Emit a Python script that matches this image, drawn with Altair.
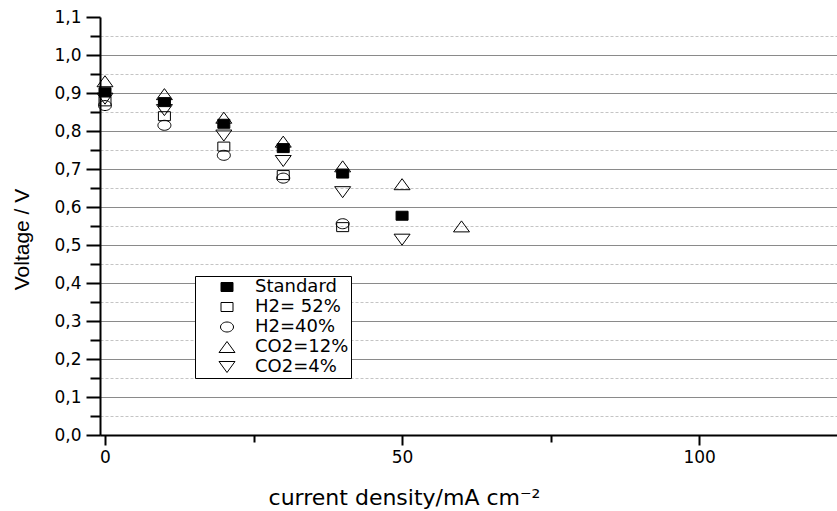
import altair as alt
import pandas as pd

# ---- data ----
series_names = ["Standard", "H2= 52%", "H2=40%", "CO2=12%", "CO2=4%"]

current_standard = [0, 10, 20, 30, 40, 50]
voltage_standard = [0.902, 0.876, 0.819, 0.755, 0.688, 0.577]

current_h2_52 = [0, 10, 20, 30, 40]
voltage_h2_52 = [0.878, 0.839, 0.759, 0.684, 0.547]

current_h2_40 = [0, 10, 20, 30, 40]
voltage_h2_40 = [0.867, 0.815, 0.736, 0.676, 0.556]

current_co2_12 = [0, 10, 20, 30, 40, 50, 60]
voltage_co2_12 = [0.931, 0.897, 0.835, 0.772, 0.707, 0.660, 0.549]

current_co2_4 = [0, 10, 20, 30, 40, 50]
voltage_co2_4 = [0.885, 0.855, 0.788, 0.721, 0.639, 0.514]

y_tick_values = [round(i * 0.05, 2) for i in range(23)]
x_tick_values = [0, 25, 50, 75, 100]

# ---- table ----
rows = []
for name, xs, ys in [
    (series_names[0], current_standard, voltage_standard),
    (series_names[1], current_h2_52, voltage_h2_52),
    (series_names[2], current_h2_40, voltage_h2_40),
    (series_names[3], current_co2_12, voltage_co2_12),
    (series_names[4], current_co2_4, voltage_co2_4),
]:
    for x, y in zip(xs, ys):
        rows.append({"series": name, "current": x, "voltage": y})
df = pd.DataFrame(rows)

# marker shapes (slightly wide, as in the reference)
sq = "M-0.75,-0.5625L0.75,-0.5625L0.75,0.5625L-0.75,0.5625Z"
circ = "M-0.8125,0A0.8125,0.625,0,1,0,0.8125,0A0.8125,0.625,0,1,0,-0.8125,0Z"
tri_up = "M0,-0.6875L1,0.6875L-1,0.6875Z"
tri_down = "M0,0.6875L1,-0.6875L-1,-0.6875Z"
shape_range = [sq, sq, circ, tri_up, tri_down]
fill_range = ["black", "transparent", "transparent", "transparent", "transparent"]
stroke_range = ["black", "black", "black", "black", "black"]

major_y = "abs(datum.value*10 - round(datum.value*10)) < 0.001"
major_x = "datum.value % 50 == 0"

legend = alt.Legend(
    title=None, orient="none", legendX=95, legendY=259, direction="vertical",
    padding=2, strokeColor="black", fillColor="white",
    symbolSize=256, symbolOffset=21, labelOffset=19, rowPadding=2,
    labelFont="DejaVu Sans", labelFontSize=18, labelColor="black", labelLimit=0,
    symbolStrokeWidth=1, symbolStrokeColor="black", symbolOpacity=1,
)

chart = alt.Chart(df).mark_point(
    size=256, opacity=1, strokeWidth=1
).encode(
    x=alt.X(
        "current:Q",
        scale=alt.Scale(domain=[-0.84, 123.2], nice=False, zero=False),
        axis=alt.Axis(
            values=x_tick_values,
            labelExpr=f"{major_x} ? datum.label : ''",
            title="current density/mA cm⁻²",
            titleFont="DejaVu Sans", titleFontSize=22, titleFontWeight="normal",
            titleColor="black", titleX=304, titleY=62,
            titleAlign="center", titleBaseline="middle",
            labelFont="DejaVu Sans", labelFontSize=17, labelColor="black",
            labelPadding=4, labelFlush=False, labelOverlap=False,
            tickSize={"condition": {"test": major_x, "value": 10}, "value": 7},
            tickColor="black", tickWidth=2,
            domainColor="black", domainWidth=2, grid=False,
        ),
    ),
    y=alt.Y(
        "voltage:Q",
        scale=alt.Scale(domain=[0, 1.1], nice=False, zero=False),
        axis=alt.Axis(
            values=y_tick_values,
            labelExpr=f"{major_y} ? replace(format(datum.value, '.1f'), '.', ',') : ''",
            title="Voltage / V",
            titleFont="Liberation Sans", titleFontSize=21, titleFontWeight="normal",
            titleColor="black", titleAngle=270, titleX=-78, titleY=222,
            titleAlign="center", titleBaseline="middle",
            labelFont="DejaVu Sans", labelFontSize=17, labelColor="black",
            labelPadding=5, labelFlush=False, labelOverlap=False,
            tickSize={"condition": {"test": major_y, "value": 14}, "value": 10},
            tickColor="black", tickWidth=2,
            domainColor="black", domainWidth=2,
            grid=True, gridWidth=1,
            gridColor={"condition": {"test": major_y, "value": "#8a8a8a"}, "value": "#c4c4c4"},
            gridDash={"condition": {"test": major_y, "value": []}, "value": [3, 2]},
            gridOpacity={"condition": {"test": "datum.value > 1.075", "value": 0}, "value": 1},
        ),
    ),
    shape=alt.Shape("series:N", scale=alt.Scale(domain=series_names, range=shape_range), legend=legend),
    fill=alt.Fill("series:N", scale=alt.Scale(domain=series_names, range=fill_range), legend=legend),
    stroke=alt.Stroke("series:N", scale=alt.Scale(domain=series_names, range=stroke_range), legend=legend),
).properties(
    width=737, height=418,
    padding={"left": 100, "top": 17, "right": 0, "bottom": 76},
    autosize=alt.AutoSizeParams(type="none"),
    background="white",
).configure_view(stroke=None)

chart.save("out.html", embed_options={"renderer": "svg", "actions": False})
